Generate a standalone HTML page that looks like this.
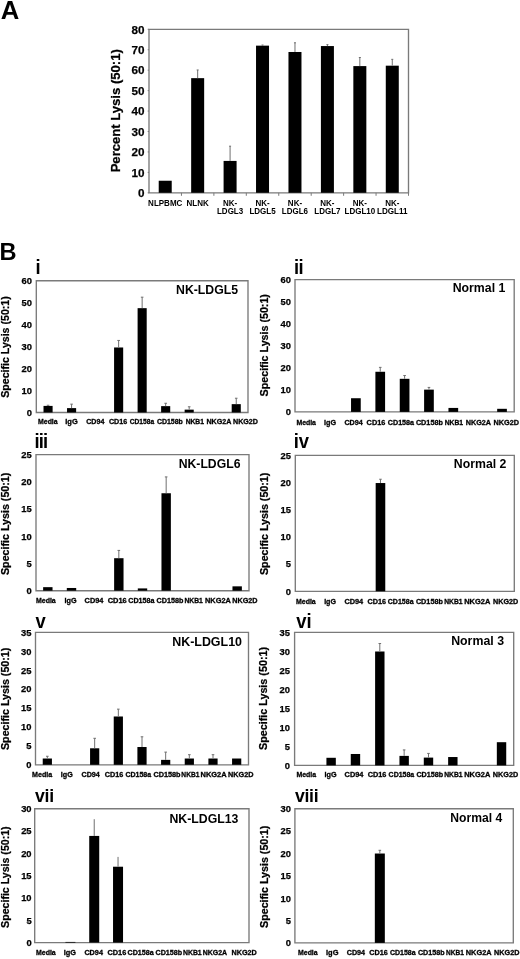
<!DOCTYPE html>
<html><head><meta charset="utf-8"><style>
html,body{margin:0;padding:0;background:#fff;width:520px;height:959px;overflow:hidden}
svg{display:block;filter:grayscale(1)}
</style></head><body>
<svg width="520" height="959" viewBox="0 0 520 959">
<g font-family='"Liberation Sans", sans-serif' font-weight="bold" fill="#000">
<text x="0.86" y="19.20" font-size="25.5" textLength="18.51" lengthAdjust="spacingAndGlyphs" >A</text>
<path d="M149.00,29.30H408.50V192.80H149.00Z" fill="none" stroke="#7a7a7a" stroke-width="1.35"/>
<rect x="158.72" y="180.74" width="13.00" height="12.06" fill="#000"/>
<rect x="191.16" y="78.15" width="13.00" height="114.65" fill="#000"/>
<rect x="223.59" y="160.92" width="13.00" height="31.88" fill="#000"/>
<rect x="256.03" y="45.65" width="13.00" height="147.15" fill="#000"/>
<rect x="288.47" y="51.99" width="13.00" height="140.81" fill="#000"/>
<rect x="320.91" y="46.06" width="13.00" height="146.74" fill="#000"/>
<rect x="353.34" y="66.09" width="13.00" height="126.71" fill="#000"/>
<rect x="385.78" y="65.68" width="13.00" height="127.12" fill="#000"/>
<line x1="197.66" y1="78.15" x2="197.66" y2="69.97" stroke="#707070" stroke-width="1"/>
<line x1="196.66" y1="69.97" x2="198.66" y2="69.97" stroke="#707070" stroke-width="1"/>
<line x1="230.09" y1="160.92" x2="230.09" y2="146.20" stroke="#707070" stroke-width="1"/>
<line x1="229.09" y1="146.20" x2="231.09" y2="146.20" stroke="#707070" stroke-width="1"/>
<line x1="262.53" y1="45.65" x2="262.53" y2="45.04" stroke="#707070" stroke-width="1"/>
<line x1="261.53" y1="45.04" x2="263.53" y2="45.04" stroke="#707070" stroke-width="1"/>
<line x1="294.97" y1="51.99" x2="294.97" y2="42.79" stroke="#707070" stroke-width="1"/>
<line x1="293.97" y1="42.79" x2="295.97" y2="42.79" stroke="#707070" stroke-width="1"/>
<line x1="327.41" y1="46.06" x2="327.41" y2="44.63" stroke="#707070" stroke-width="1"/>
<line x1="326.41" y1="44.63" x2="328.41" y2="44.63" stroke="#707070" stroke-width="1"/>
<line x1="359.84" y1="66.09" x2="359.84" y2="57.50" stroke="#707070" stroke-width="1"/>
<line x1="358.84" y1="57.50" x2="360.84" y2="57.50" stroke="#707070" stroke-width="1"/>
<line x1="392.28" y1="65.68" x2="392.28" y2="59.34" stroke="#707070" stroke-width="1"/>
<line x1="391.28" y1="59.34" x2="393.28" y2="59.34" stroke="#707070" stroke-width="1"/>
<text x="144.40" y="197.01" font-size="11.7" text-anchor="end" stroke="#000" stroke-width="0.25">0</text>
<line x1="147.70" y1="192.80" x2="149.00" y2="192.80" stroke="#7a7a7a" stroke-width="1"/>
<text x="144.40" y="176.57" font-size="11.7" text-anchor="end" stroke="#000" stroke-width="0.25">10</text>
<line x1="147.70" y1="172.36" x2="149.00" y2="172.36" stroke="#7a7a7a" stroke-width="1"/>
<text x="144.40" y="156.14" font-size="11.7" text-anchor="end" stroke="#000" stroke-width="0.25">20</text>
<line x1="147.70" y1="151.93" x2="149.00" y2="151.93" stroke="#7a7a7a" stroke-width="1"/>
<text x="144.40" y="135.70" font-size="11.7" text-anchor="end" stroke="#000" stroke-width="0.25">30</text>
<line x1="147.70" y1="131.49" x2="149.00" y2="131.49" stroke="#7a7a7a" stroke-width="1"/>
<text x="144.40" y="115.26" font-size="11.7" text-anchor="end" stroke="#000" stroke-width="0.25">40</text>
<line x1="147.70" y1="111.05" x2="149.00" y2="111.05" stroke="#7a7a7a" stroke-width="1"/>
<text x="144.40" y="94.82" font-size="11.7" text-anchor="end" stroke="#000" stroke-width="0.25">50</text>
<line x1="147.70" y1="90.61" x2="149.00" y2="90.61" stroke="#7a7a7a" stroke-width="1"/>
<text x="144.40" y="74.39" font-size="11.7" text-anchor="end" stroke="#000" stroke-width="0.25">60</text>
<line x1="147.70" y1="70.17" x2="149.00" y2="70.17" stroke="#7a7a7a" stroke-width="1"/>
<text x="144.40" y="53.95" font-size="11.7" text-anchor="end" stroke="#000" stroke-width="0.25">70</text>
<line x1="147.70" y1="49.74" x2="149.00" y2="49.74" stroke="#7a7a7a" stroke-width="1"/>
<text x="144.40" y="33.51" font-size="11.7" text-anchor="end" stroke="#000" stroke-width="0.25">80</text>
<line x1="147.70" y1="29.30" x2="149.00" y2="29.30" stroke="#7a7a7a" stroke-width="1"/>
<line x1="181.44" y1="192.80" x2="181.44" y2="195.80" stroke="#7a7a7a" stroke-width="1"/>
<line x1="213.88" y1="192.80" x2="213.88" y2="195.80" stroke="#7a7a7a" stroke-width="1"/>
<line x1="246.31" y1="192.80" x2="246.31" y2="195.80" stroke="#7a7a7a" stroke-width="1"/>
<line x1="278.75" y1="192.80" x2="278.75" y2="195.80" stroke="#7a7a7a" stroke-width="1"/>
<line x1="311.19" y1="192.80" x2="311.19" y2="195.80" stroke="#7a7a7a" stroke-width="1"/>
<line x1="343.62" y1="192.80" x2="343.62" y2="195.80" stroke="#7a7a7a" stroke-width="1"/>
<line x1="376.06" y1="192.80" x2="376.06" y2="195.80" stroke="#7a7a7a" stroke-width="1"/>
<line x1="408.50" y1="192.80" x2="408.50" y2="195.80" stroke="#7a7a7a" stroke-width="1"/>
<text x="0" y="0" font-size="12.8" textLength="123.22" lengthAdjust="spacingAndGlyphs" stroke="#000" stroke-width="0.25" transform="translate(119.60,172.37) rotate(-90)">Percent Lysis (50:1)</text>
<text x="148.11" y="205.50" font-size="8.7" textLength="34.22" lengthAdjust="spacingAndGlyphs" >NLPBMC</text>
<text x="186.55" y="205.50" font-size="8.7" textLength="22.22" lengthAdjust="spacingAndGlyphs" >NLNK</text>
<text x="222.98" y="205.50" font-size="8.7" textLength="14.22" lengthAdjust="spacingAndGlyphs" >NK-</text>
<text x="216.98" y="213.70" font-size="8.7" textLength="26.22" lengthAdjust="spacingAndGlyphs" >LDGL3</text>
<text x="255.42" y="205.50" font-size="8.7" textLength="14.22" lengthAdjust="spacingAndGlyphs" >NK-</text>
<text x="249.42" y="213.70" font-size="8.7" textLength="26.22" lengthAdjust="spacingAndGlyphs" >LDGL5</text>
<text x="287.86" y="205.50" font-size="8.7" textLength="14.22" lengthAdjust="spacingAndGlyphs" >NK-</text>
<text x="281.86" y="213.70" font-size="8.7" textLength="26.22" lengthAdjust="spacingAndGlyphs" >LDGL6</text>
<text x="320.30" y="205.50" font-size="8.7" textLength="14.22" lengthAdjust="spacingAndGlyphs" >NK-</text>
<text x="314.29" y="213.70" font-size="8.7" textLength="26.22" lengthAdjust="spacingAndGlyphs" >LDGL7</text>
<text x="352.73" y="205.50" font-size="8.7" textLength="14.22" lengthAdjust="spacingAndGlyphs" >NK-</text>
<text x="344.51" y="213.70" font-size="8.7" textLength="30.67" lengthAdjust="spacingAndGlyphs" >LDGL10</text>
<text x="385.17" y="205.50" font-size="8.7" textLength="14.22" lengthAdjust="spacingAndGlyphs" >NK-</text>
<text x="376.95" y="213.70" font-size="8.7" textLength="30.67" lengthAdjust="spacingAndGlyphs" >LDGL11</text>
<text x="-0.58" y="259.60" font-size="23.5" textLength="17.05" lengthAdjust="spacingAndGlyphs" >B</text>
<text x="0" y="0" font-size="20.0" letter-spacing="0.00" transform="translate(35.62,274.00) scale(0.92,1)">i</text>
<path d="M36.30,280.70H248.00V412.50H36.30Z" fill="none" stroke="#7a7a7a" stroke-width="1.35"/>
<rect x="43.51" y="405.91" width="9.10" height="6.59" fill="#000"/>
<rect x="67.03" y="408.11" width="9.10" height="4.39" fill="#000"/>
<rect x="114.08" y="347.48" width="9.10" height="65.02" fill="#000"/>
<rect x="137.60" y="308.16" width="9.10" height="104.34" fill="#000"/>
<rect x="161.12" y="406.13" width="9.10" height="6.37" fill="#000"/>
<rect x="184.64" y="409.64" width="9.10" height="2.86" fill="#000"/>
<rect x="231.69" y="404.15" width="9.10" height="8.35" fill="#000"/>
<line x1="48.06" y1="405.91" x2="48.06" y2="405.25" stroke="#707070" stroke-width="1"/>
<line x1="46.76" y1="405.25" x2="49.36" y2="405.25" stroke="#707070" stroke-width="1"/>
<line x1="71.58" y1="408.11" x2="71.58" y2="404.15" stroke="#707070" stroke-width="1"/>
<line x1="70.28" y1="404.15" x2="72.88" y2="404.15" stroke="#707070" stroke-width="1"/>
<line x1="118.63" y1="347.48" x2="118.63" y2="340.45" stroke="#707070" stroke-width="1"/>
<line x1="117.33" y1="340.45" x2="119.93" y2="340.45" stroke="#707070" stroke-width="1"/>
<line x1="142.15" y1="308.16" x2="142.15" y2="297.18" stroke="#707070" stroke-width="1"/>
<line x1="140.85" y1="297.18" x2="143.45" y2="297.18" stroke="#707070" stroke-width="1"/>
<line x1="165.67" y1="406.13" x2="165.67" y2="403.27" stroke="#707070" stroke-width="1"/>
<line x1="164.37" y1="403.27" x2="166.97" y2="403.27" stroke="#707070" stroke-width="1"/>
<line x1="189.19" y1="409.64" x2="189.19" y2="406.79" stroke="#707070" stroke-width="1"/>
<line x1="187.89" y1="406.79" x2="190.49" y2="406.79" stroke="#707070" stroke-width="1"/>
<line x1="236.24" y1="404.15" x2="236.24" y2="398.22" stroke="#707070" stroke-width="1"/>
<line x1="234.94" y1="398.22" x2="237.54" y2="398.22" stroke="#707070" stroke-width="1"/>
<text x="31.90" y="415.88" font-size="9.4" text-anchor="end" stroke="#000" stroke-width="0.25">0</text>
<text x="31.90" y="393.92" font-size="9.4" text-anchor="end" stroke="#000" stroke-width="0.25">10</text>
<text x="31.90" y="371.95" font-size="9.4" text-anchor="end" stroke="#000" stroke-width="0.25">20</text>
<text x="31.90" y="349.98" font-size="9.4" text-anchor="end" stroke="#000" stroke-width="0.25">30</text>
<text x="31.90" y="328.02" font-size="9.4" text-anchor="end" stroke="#000" stroke-width="0.25">40</text>
<text x="31.90" y="306.05" font-size="9.4" text-anchor="end" stroke="#000" stroke-width="0.25">50</text>
<text x="31.90" y="284.08" font-size="9.4" text-anchor="end" stroke="#000" stroke-width="0.25">60</text>
<text x="176.08" y="293.80" font-size="12" textLength="61.96" lengthAdjust="spacingAndGlyphs" >NK-LDGL5</text>
<text x="0" y="0" font-size="10.3" textLength="101.53" lengthAdjust="spacingAndGlyphs" stroke="#000" stroke-width="0.25" transform="translate(9.00,397.80) rotate(-90)">Specific Lysis (50:1)</text>
<text x="38.04" y="423.70" font-size="7.2" textLength="19.62" lengthAdjust="spacingAndGlyphs" stroke="#000" stroke-width="0.3">Media</text>
<text x="65.30" y="423.70" font-size="7.2" textLength="12.46" lengthAdjust="spacingAndGlyphs" stroke="#000" stroke-width="0.3">IgG</text>
<text x="86.21" y="423.70" font-size="7.2" textLength="18.13" lengthAdjust="spacingAndGlyphs" stroke="#000" stroke-width="0.3">CD94</text>
<text x="108.91" y="423.70" font-size="7.2" textLength="18.35" lengthAdjust="spacingAndGlyphs" stroke="#000" stroke-width="0.3">CD16</text>
<text x="129.73" y="423.70" font-size="7.2" textLength="24.43" lengthAdjust="spacingAndGlyphs" stroke="#000" stroke-width="0.3">CD158a</text>
<text x="156.91" y="423.70" font-size="7.2" textLength="25.97" lengthAdjust="spacingAndGlyphs" stroke="#000" stroke-width="0.3">CD158b</text>
<text x="185.65" y="423.70" font-size="7.2" textLength="18.34" lengthAdjust="spacingAndGlyphs" stroke="#000" stroke-width="0.3">NKB1</text>
<text x="206.42" y="423.70" font-size="7.2" textLength="24.97" lengthAdjust="spacingAndGlyphs" stroke="#000" stroke-width="0.3">NKG2A</text>
<text x="233.02" y="423.70" font-size="7.2" textLength="24.98" lengthAdjust="spacingAndGlyphs" stroke="#000" stroke-width="0.3">NKG2D</text>
<text x="0" y="0" font-size="20.0" letter-spacing="-0.69" transform="translate(293.92,273.90) scale(0.92,1)">ii</text>
<path d="M295.00,279.60H514.20V411.90H295.00Z" fill="none" stroke="#7a7a7a" stroke-width="1.35"/>
<rect x="351.04" y="398.23" width="9.70" height="13.67" fill="#000"/>
<rect x="375.39" y="371.77" width="9.70" height="40.13" fill="#000"/>
<rect x="399.75" y="378.82" width="9.70" height="33.07" fill="#000"/>
<rect x="424.11" y="389.63" width="9.70" height="22.27" fill="#000"/>
<rect x="448.46" y="407.93" width="9.70" height="3.97" fill="#000"/>
<rect x="497.17" y="408.81" width="9.70" height="3.09" fill="#000"/>
<line x1="380.24" y1="371.77" x2="380.24" y2="367.36" stroke="#707070" stroke-width="1"/>
<line x1="378.94" y1="367.36" x2="381.54" y2="367.36" stroke="#707070" stroke-width="1"/>
<line x1="404.60" y1="378.82" x2="404.60" y2="375.52" stroke="#707070" stroke-width="1"/>
<line x1="403.30" y1="375.52" x2="405.90" y2="375.52" stroke="#707070" stroke-width="1"/>
<line x1="428.96" y1="389.63" x2="428.96" y2="387.42" stroke="#707070" stroke-width="1"/>
<line x1="427.66" y1="387.42" x2="430.26" y2="387.42" stroke="#707070" stroke-width="1"/>
<text x="290.90" y="415.28" font-size="9.4" text-anchor="end" stroke="#000" stroke-width="0.25">0</text>
<text x="290.90" y="393.23" font-size="9.4" text-anchor="end" stroke="#000" stroke-width="0.25">10</text>
<text x="290.90" y="371.18" font-size="9.4" text-anchor="end" stroke="#000" stroke-width="0.25">20</text>
<text x="290.90" y="349.13" font-size="9.4" text-anchor="end" stroke="#000" stroke-width="0.25">30</text>
<text x="290.90" y="327.08" font-size="9.4" text-anchor="end" stroke="#000" stroke-width="0.25">40</text>
<text x="290.90" y="305.03" font-size="9.4" text-anchor="end" stroke="#000" stroke-width="0.25">50</text>
<text x="290.90" y="282.98" font-size="9.4" text-anchor="end" stroke="#000" stroke-width="0.25">60</text>
<text x="452.68" y="291.80" font-size="12" textLength="52.67" lengthAdjust="spacingAndGlyphs" >Normal 1</text>
<text x="0" y="0" font-size="10.3" textLength="102.34" lengthAdjust="spacingAndGlyphs" stroke="#000" stroke-width="0.25" transform="translate(268.00,396.41) rotate(-90)">Specific Lysis (50:1)</text>
<text x="296.44" y="424.60" font-size="7.2" textLength="19.52" lengthAdjust="spacingAndGlyphs" stroke="#000" stroke-width="0.3">Media</text>
<text x="324.12" y="424.60" font-size="7.2" textLength="12.03" lengthAdjust="spacingAndGlyphs" stroke="#000" stroke-width="0.3">IgG</text>
<text x="344.41" y="424.60" font-size="7.2" textLength="18.33" lengthAdjust="spacingAndGlyphs" stroke="#000" stroke-width="0.3">CD94</text>
<text x="366.60" y="424.60" font-size="7.2" textLength="18.77" lengthAdjust="spacingAndGlyphs" stroke="#000" stroke-width="0.3">CD16</text>
<text x="387.81" y="424.60" font-size="7.2" textLength="26.25" lengthAdjust="spacingAndGlyphs" stroke="#000" stroke-width="0.3">CD158a</text>
<text x="415.90" y="424.60" font-size="7.2" textLength="26.99" lengthAdjust="spacingAndGlyphs" stroke="#000" stroke-width="0.3">CD158b</text>
<text x="444.75" y="424.60" font-size="7.2" textLength="18.34" lengthAdjust="spacingAndGlyphs" stroke="#000" stroke-width="0.3">NKB1</text>
<text x="465.82" y="424.60" font-size="7.2" textLength="25.27" lengthAdjust="spacingAndGlyphs" stroke="#000" stroke-width="0.3">NKG2A</text>
<text x="493.51" y="424.60" font-size="7.2" textLength="25.49" lengthAdjust="spacingAndGlyphs" stroke="#000" stroke-width="0.3">NKG2D</text>
<text x="0" y="0" font-size="20.0" letter-spacing="-0.90" transform="translate(34.52,448.10) scale(0.92,1)">iii</text>
<path d="M36.00,454.60H249.00V590.70H36.00Z" fill="none" stroke="#7a7a7a" stroke-width="1.35"/>
<rect x="43.13" y="587.16" width="9.40" height="3.54" fill="#000"/>
<rect x="66.80" y="587.98" width="9.40" height="2.72" fill="#000"/>
<rect x="114.13" y="558.20" width="9.40" height="32.50" fill="#000"/>
<rect x="137.80" y="588.41" width="9.40" height="2.29" fill="#000"/>
<rect x="161.47" y="493.25" width="9.40" height="97.45" fill="#000"/>
<rect x="232.47" y="586.34" width="9.40" height="4.36" fill="#000"/>
<line x1="118.83" y1="558.20" x2="118.83" y2="550.41" stroke="#707070" stroke-width="1"/>
<line x1="117.53" y1="550.41" x2="120.13" y2="550.41" stroke="#707070" stroke-width="1"/>
<line x1="166.17" y1="493.25" x2="166.17" y2="476.92" stroke="#707070" stroke-width="1"/>
<line x1="164.87" y1="476.92" x2="167.47" y2="476.92" stroke="#707070" stroke-width="1"/>
<text x="31.80" y="594.08" font-size="9.4" text-anchor="end" stroke="#000" stroke-width="0.25">0</text>
<text x="31.80" y="566.86" font-size="9.4" text-anchor="end" stroke="#000" stroke-width="0.25">5</text>
<text x="31.80" y="539.64" font-size="9.4" text-anchor="end" stroke="#000" stroke-width="0.25">10</text>
<text x="31.80" y="512.42" font-size="9.4" text-anchor="end" stroke="#000" stroke-width="0.25">15</text>
<text x="31.80" y="485.20" font-size="9.4" text-anchor="end" stroke="#000" stroke-width="0.25">20</text>
<text x="31.80" y="457.98" font-size="9.4" text-anchor="end" stroke="#000" stroke-width="0.25">25</text>
<text x="178.68" y="467.90" font-size="12" textLength="61.76" lengthAdjust="spacingAndGlyphs" >NK-LDGL6</text>
<text x="0" y="0" font-size="10.3" textLength="102.34" lengthAdjust="spacingAndGlyphs" stroke="#000" stroke-width="0.25" transform="translate(9.00,575.01) rotate(-90)">Specific Lysis (50:1)</text>
<text x="36.03" y="602.50" font-size="7.2" textLength="19.72" lengthAdjust="spacingAndGlyphs" stroke="#000" stroke-width="0.3">Media</text>
<text x="64.62" y="602.50" font-size="7.2" textLength="12.03" lengthAdjust="spacingAndGlyphs" stroke="#000" stroke-width="0.3">IgG</text>
<text x="84.60" y="602.50" font-size="7.2" textLength="18.84" lengthAdjust="spacingAndGlyphs" stroke="#000" stroke-width="0.3">CD94</text>
<text x="107.69" y="602.50" font-size="7.2" textLength="19.08" lengthAdjust="spacingAndGlyphs" stroke="#000" stroke-width="0.3">CD16</text>
<text x="128.31" y="602.50" font-size="7.2" textLength="26.15" lengthAdjust="spacingAndGlyphs" stroke="#000" stroke-width="0.3">CD158a</text>
<text x="156.60" y="602.50" font-size="7.2" textLength="26.79" lengthAdjust="spacingAndGlyphs" stroke="#000" stroke-width="0.3">CD158b</text>
<text x="184.45" y="602.50" font-size="7.2" textLength="18.34" lengthAdjust="spacingAndGlyphs" stroke="#000" stroke-width="0.3">NKB1</text>
<text x="205.01" y="602.50" font-size="7.2" textLength="25.89" lengthAdjust="spacingAndGlyphs" stroke="#000" stroke-width="0.3">NKG2A</text>
<text x="232.22" y="602.50" font-size="7.2" textLength="25.29" lengthAdjust="spacingAndGlyphs" stroke="#000" stroke-width="0.3">NKG2D</text>
<text x="0" y="0" font-size="20.0" letter-spacing="-0.30" transform="translate(293.82,448.20) scale(0.92,1)">iv</text>
<path d="M295.30,455.30H514.30V591.30H295.30Z" fill="none" stroke="#7a7a7a" stroke-width="1.35"/>
<rect x="375.67" y="483.04" width="9.60" height="108.26" fill="#000"/>
<line x1="380.47" y1="483.04" x2="380.47" y2="479.24" stroke="#707070" stroke-width="1"/>
<line x1="379.17" y1="479.24" x2="381.77" y2="479.24" stroke="#707070" stroke-width="1"/>
<text x="291.00" y="594.68" font-size="9.4" text-anchor="end" stroke="#000" stroke-width="0.25">0</text>
<text x="291.00" y="567.48" font-size="9.4" text-anchor="end" stroke="#000" stroke-width="0.25">5</text>
<text x="291.00" y="540.28" font-size="9.4" text-anchor="end" stroke="#000" stroke-width="0.25">10</text>
<text x="291.00" y="513.08" font-size="9.4" text-anchor="end" stroke="#000" stroke-width="0.25">15</text>
<text x="291.00" y="485.88" font-size="9.4" text-anchor="end" stroke="#000" stroke-width="0.25">20</text>
<text x="291.00" y="458.68" font-size="9.4" text-anchor="end" stroke="#000" stroke-width="0.25">25</text>
<text x="453.88" y="468.30" font-size="12" textLength="52.51" lengthAdjust="spacingAndGlyphs" >Normal 2</text>
<text x="0" y="0" font-size="10.3" textLength="102.34" lengthAdjust="spacingAndGlyphs" stroke="#000" stroke-width="0.25" transform="translate(268.00,575.01) rotate(-90)">Specific Lysis (50:1)</text>
<text x="296.03" y="603.60" font-size="7.2" textLength="19.72" lengthAdjust="spacingAndGlyphs" stroke="#000" stroke-width="0.3">Media</text>
<text x="324.13" y="603.60" font-size="7.2" textLength="11.81" lengthAdjust="spacingAndGlyphs" stroke="#000" stroke-width="0.3">IgG</text>
<text x="344.40" y="603.60" font-size="7.2" textLength="18.84" lengthAdjust="spacingAndGlyphs" stroke="#000" stroke-width="0.3">CD94</text>
<text x="367.50" y="603.60" font-size="7.2" textLength="18.56" lengthAdjust="spacingAndGlyphs" stroke="#000" stroke-width="0.3">CD16</text>
<text x="387.81" y="603.60" font-size="7.2" textLength="25.74" lengthAdjust="spacingAndGlyphs" stroke="#000" stroke-width="0.3">CD158a</text>
<text x="415.90" y="603.60" font-size="7.2" textLength="26.99" lengthAdjust="spacingAndGlyphs" stroke="#000" stroke-width="0.3">CD158b</text>
<text x="444.25" y="603.60" font-size="7.2" textLength="18.34" lengthAdjust="spacingAndGlyphs" stroke="#000" stroke-width="0.3">NKB1</text>
<text x="464.20" y="603.60" font-size="7.2" textLength="26.10" lengthAdjust="spacingAndGlyphs" stroke="#000" stroke-width="0.3">NKG2A</text>
<text x="493.02" y="603.60" font-size="7.2" textLength="25.18" lengthAdjust="spacingAndGlyphs" stroke="#000" stroke-width="0.3">NKG2D</text>
<text x="0" y="0" font-size="20.0" letter-spacing="0.00" transform="translate(35.43,627.50) scale(0.92,1)">v</text>
<path d="M35.50,632.30H248.50V764.80H35.50Z" fill="none" stroke="#7a7a7a" stroke-width="1.35"/>
<rect x="42.73" y="758.52" width="9.20" height="6.28" fill="#000"/>
<rect x="90.07" y="748.29" width="9.20" height="16.51" fill="#000"/>
<rect x="113.73" y="716.49" width="9.20" height="48.31" fill="#000"/>
<rect x="137.40" y="747.01" width="9.20" height="17.79" fill="#000"/>
<rect x="161.07" y="759.88" width="9.20" height="4.92" fill="#000"/>
<rect x="184.73" y="758.52" width="9.20" height="6.28" fill="#000"/>
<rect x="208.40" y="758.52" width="9.20" height="6.28" fill="#000"/>
<rect x="232.07" y="758.52" width="9.20" height="6.28" fill="#000"/>
<line x1="47.33" y1="758.52" x2="47.33" y2="756.28" stroke="#707070" stroke-width="1"/>
<line x1="46.03" y1="756.28" x2="48.63" y2="756.28" stroke="#707070" stroke-width="1"/>
<line x1="94.67" y1="748.29" x2="94.67" y2="738.30" stroke="#707070" stroke-width="1"/>
<line x1="93.37" y1="738.30" x2="95.97" y2="738.30" stroke="#707070" stroke-width="1"/>
<line x1="118.33" y1="716.49" x2="118.33" y2="709.15" stroke="#707070" stroke-width="1"/>
<line x1="117.03" y1="709.15" x2="119.63" y2="709.15" stroke="#707070" stroke-width="1"/>
<line x1="142.00" y1="747.01" x2="142.00" y2="736.79" stroke="#707070" stroke-width="1"/>
<line x1="140.70" y1="736.79" x2="143.30" y2="736.79" stroke="#707070" stroke-width="1"/>
<line x1="165.67" y1="759.88" x2="165.67" y2="752.12" stroke="#707070" stroke-width="1"/>
<line x1="164.37" y1="752.12" x2="166.97" y2="752.12" stroke="#707070" stroke-width="1"/>
<line x1="189.33" y1="758.52" x2="189.33" y2="754.69" stroke="#707070" stroke-width="1"/>
<line x1="188.03" y1="754.69" x2="190.63" y2="754.69" stroke="#707070" stroke-width="1"/>
<line x1="213.00" y1="758.52" x2="213.00" y2="754.69" stroke="#707070" stroke-width="1"/>
<line x1="211.70" y1="754.69" x2="214.30" y2="754.69" stroke="#707070" stroke-width="1"/>
<text x="31.50" y="768.18" font-size="9.4" text-anchor="end" stroke="#000" stroke-width="0.25">0</text>
<text x="31.50" y="749.26" font-size="9.4" text-anchor="end" stroke="#000" stroke-width="0.25">5</text>
<text x="31.50" y="730.33" font-size="9.4" text-anchor="end" stroke="#000" stroke-width="0.25">10</text>
<text x="31.50" y="711.40" font-size="9.4" text-anchor="end" stroke="#000" stroke-width="0.25">15</text>
<text x="31.50" y="692.47" font-size="9.4" text-anchor="end" stroke="#000" stroke-width="0.25">20</text>
<text x="31.50" y="673.54" font-size="9.4" text-anchor="end" stroke="#000" stroke-width="0.25">25</text>
<text x="31.50" y="654.61" font-size="9.4" text-anchor="end" stroke="#000" stroke-width="0.25">30</text>
<text x="31.50" y="635.68" font-size="9.4" text-anchor="end" stroke="#000" stroke-width="0.25">35</text>
<text x="172.17" y="645.70" font-size="12" textLength="69.84" lengthAdjust="spacingAndGlyphs" >NK-LDGL10</text>
<text x="0" y="0" font-size="10.3" textLength="102.34" lengthAdjust="spacingAndGlyphs" stroke="#000" stroke-width="0.25" transform="translate(9.00,750.01) rotate(-90)">Specific Lysis (50:1)</text>
<text x="32.02" y="777.00" font-size="7.2" textLength="20.13" lengthAdjust="spacingAndGlyphs" stroke="#000" stroke-width="0.3">Media</text>
<text x="60.82" y="777.00" font-size="7.2" textLength="11.92" lengthAdjust="spacingAndGlyphs" stroke="#000" stroke-width="0.3">IgG</text>
<text x="81.51" y="777.00" font-size="7.2" textLength="18.33" lengthAdjust="spacingAndGlyphs" stroke="#000" stroke-width="0.3">CD94</text>
<text x="104.80" y="777.00" font-size="7.2" textLength="18.56" lengthAdjust="spacingAndGlyphs" stroke="#000" stroke-width="0.3">CD16</text>
<text x="125.41" y="777.00" font-size="7.2" textLength="25.74" lengthAdjust="spacingAndGlyphs" stroke="#000" stroke-width="0.3">CD158a</text>
<text x="153.40" y="777.00" font-size="7.2" textLength="27.10" lengthAdjust="spacingAndGlyphs" stroke="#000" stroke-width="0.3">CD158b</text>
<text x="181.36" y="777.00" font-size="7.2" textLength="18.03" lengthAdjust="spacingAndGlyphs" stroke="#000" stroke-width="0.3">NKB1</text>
<text x="200.50" y="777.00" font-size="7.2" textLength="26.10" lengthAdjust="spacingAndGlyphs" stroke="#000" stroke-width="0.3">NKG2A</text>
<text x="228.01" y="777.00" font-size="7.2" textLength="25.49" lengthAdjust="spacingAndGlyphs" stroke="#000" stroke-width="0.3">NKG2D</text>
<text x="0" y="0" font-size="20.0" letter-spacing="0.03" transform="translate(296.23,628.00) scale(0.92,1)">vi</text>
<path d="M294.60,632.30H513.70V765.40H294.60Z" fill="none" stroke="#7a7a7a" stroke-width="1.35"/>
<rect x="326.42" y="757.79" width="9.40" height="7.61" fill="#000"/>
<rect x="350.76" y="753.99" width="9.40" height="11.41" fill="#000"/>
<rect x="375.11" y="651.50" width="9.40" height="113.90" fill="#000"/>
<rect x="399.45" y="755.89" width="9.40" height="9.51" fill="#000"/>
<rect x="423.79" y="757.60" width="9.40" height="7.80" fill="#000"/>
<rect x="448.14" y="757.03" width="9.40" height="8.37" fill="#000"/>
<rect x="496.83" y="742.20" width="9.40" height="23.20" fill="#000"/>
<line x1="379.81" y1="651.50" x2="379.81" y2="643.52" stroke="#707070" stroke-width="1"/>
<line x1="378.51" y1="643.52" x2="381.11" y2="643.52" stroke="#707070" stroke-width="1"/>
<line x1="404.15" y1="755.89" x2="404.15" y2="749.92" stroke="#707070" stroke-width="1"/>
<line x1="402.85" y1="749.92" x2="405.45" y2="749.92" stroke="#707070" stroke-width="1"/>
<line x1="428.49" y1="757.60" x2="428.49" y2="753.42" stroke="#707070" stroke-width="1"/>
<line x1="427.19" y1="753.42" x2="429.79" y2="753.42" stroke="#707070" stroke-width="1"/>
<text x="290.00" y="768.78" font-size="9.4" text-anchor="end" stroke="#000" stroke-width="0.25">0</text>
<text x="290.00" y="749.77" font-size="9.4" text-anchor="end" stroke="#000" stroke-width="0.25">5</text>
<text x="290.00" y="730.76" font-size="9.4" text-anchor="end" stroke="#000" stroke-width="0.25">10</text>
<text x="290.00" y="711.74" font-size="9.4" text-anchor="end" stroke="#000" stroke-width="0.25">15</text>
<text x="290.00" y="692.73" font-size="9.4" text-anchor="end" stroke="#000" stroke-width="0.25">20</text>
<text x="290.00" y="673.71" font-size="9.4" text-anchor="end" stroke="#000" stroke-width="0.25">25</text>
<text x="290.00" y="654.70" font-size="9.4" text-anchor="end" stroke="#000" stroke-width="0.25">30</text>
<text x="290.00" y="635.68" font-size="9.4" text-anchor="end" stroke="#000" stroke-width="0.25">35</text>
<text x="451.17" y="645.30" font-size="12" textLength="52.87" lengthAdjust="spacingAndGlyphs" >Normal 3</text>
<text x="0" y="0" font-size="10.3" textLength="103.04" lengthAdjust="spacingAndGlyphs" stroke="#000" stroke-width="0.25" transform="translate(267.30,750.01) rotate(-90)">Specific Lysis (50:1)</text>
<text x="296.44" y="777.30" font-size="7.2" textLength="19.62" lengthAdjust="spacingAndGlyphs" stroke="#000" stroke-width="0.3">Media</text>
<text x="324.62" y="777.30" font-size="7.2" textLength="12.03" lengthAdjust="spacingAndGlyphs" stroke="#000" stroke-width="0.3">IgG</text>
<text x="344.60" y="777.30" font-size="7.2" textLength="18.84" lengthAdjust="spacingAndGlyphs" stroke="#000" stroke-width="0.3">CD94</text>
<text x="367.70" y="777.30" font-size="7.2" textLength="18.77" lengthAdjust="spacingAndGlyphs" stroke="#000" stroke-width="0.3">CD16</text>
<text x="388.61" y="777.30" font-size="7.2" textLength="25.64" lengthAdjust="spacingAndGlyphs" stroke="#000" stroke-width="0.3">CD158a</text>
<text x="416.40" y="777.30" font-size="7.2" textLength="26.79" lengthAdjust="spacingAndGlyphs" stroke="#000" stroke-width="0.3">CD158b</text>
<text x="444.25" y="777.30" font-size="7.2" textLength="18.34" lengthAdjust="spacingAndGlyphs" stroke="#000" stroke-width="0.3">NKB1</text>
<text x="464.20" y="777.30" font-size="7.2" textLength="26.10" lengthAdjust="spacingAndGlyphs" stroke="#000" stroke-width="0.3">NKG2A</text>
<text x="492.81" y="777.30" font-size="7.2" textLength="25.39" lengthAdjust="spacingAndGlyphs" stroke="#000" stroke-width="0.3">NKG2D</text>
<text x="0" y="0" font-size="19.2" letter-spacing="-0.23" transform="translate(34.93,801.80) scale(0.92,1)">vii</text>
<path d="M34.70,808.70H249.00V942.60H34.70Z" fill="none" stroke="#7a7a7a" stroke-width="1.35"/>
<rect x="65.42" y="941.93" width="10.00" height="0.67" fill="#000"/>
<rect x="89.23" y="835.93" width="10.00" height="106.67" fill="#000"/>
<rect x="113.04" y="866.72" width="10.00" height="75.88" fill="#000"/>
<line x1="94.23" y1="835.93" x2="94.23" y2="819.19" stroke="#707070" stroke-width="1"/>
<line x1="118.04" y1="866.72" x2="118.04" y2="856.90" stroke="#707070" stroke-width="1"/>
<text x="31.60" y="945.98" font-size="9.4" text-anchor="end" stroke="#000" stroke-width="0.25">0</text>
<text x="31.60" y="923.67" font-size="9.4" text-anchor="end" stroke="#000" stroke-width="0.25">5</text>
<text x="31.60" y="901.35" font-size="9.4" text-anchor="end" stroke="#000" stroke-width="0.25">10</text>
<text x="31.60" y="879.03" font-size="9.4" text-anchor="end" stroke="#000" stroke-width="0.25">15</text>
<text x="31.60" y="856.72" font-size="9.4" text-anchor="end" stroke="#000" stroke-width="0.25">20</text>
<text x="31.60" y="834.40" font-size="9.4" text-anchor="end" stroke="#000" stroke-width="0.25">25</text>
<text x="31.60" y="812.08" font-size="9.4" text-anchor="end" stroke="#000" stroke-width="0.25">30</text>
<text x="169.48" y="823.00" font-size="12" textLength="68.97" lengthAdjust="spacingAndGlyphs" >NK-LDGL13</text>
<text x="0" y="0" font-size="10.3" textLength="101.53" lengthAdjust="spacingAndGlyphs" stroke="#000" stroke-width="0.25" transform="translate(9.00,927.90) rotate(-90)">Specific Lysis (50:1)</text>
<text x="36.03" y="955.00" font-size="7.2" textLength="19.72" lengthAdjust="spacingAndGlyphs" stroke="#000" stroke-width="0.3">Media</text>
<text x="63.71" y="955.00" font-size="7.2" textLength="12.25" lengthAdjust="spacingAndGlyphs" stroke="#000" stroke-width="0.3">IgG</text>
<text x="84.40" y="955.00" font-size="7.2" textLength="18.54" lengthAdjust="spacingAndGlyphs" stroke="#000" stroke-width="0.3">CD94</text>
<text x="107.50" y="955.00" font-size="7.2" textLength="18.77" lengthAdjust="spacingAndGlyphs" stroke="#000" stroke-width="0.3">CD16</text>
<text x="127.51" y="955.00" font-size="7.2" textLength="26.15" lengthAdjust="spacingAndGlyphs" stroke="#000" stroke-width="0.3">CD158a</text>
<text x="155.51" y="955.00" font-size="7.2" textLength="26.59" lengthAdjust="spacingAndGlyphs" stroke="#000" stroke-width="0.3">CD158b</text>
<text x="182.94" y="955.00" font-size="7.2" textLength="18.75" lengthAdjust="spacingAndGlyphs" stroke="#000" stroke-width="0.3">NKB1</text>
<text x="202.63" y="955.00" font-size="7.2" textLength="24.45" lengthAdjust="spacingAndGlyphs" stroke="#000" stroke-width="0.3">NKG2A</text>
<text x="231.52" y="955.00" font-size="7.2" textLength="25.29" lengthAdjust="spacingAndGlyphs" stroke="#000" stroke-width="0.3">NKG2D</text>
<text x="0" y="0" font-size="19.2" letter-spacing="-0.37" transform="translate(295.03,802.00) scale(0.92,1)">viii</text>
<path d="M294.90,808.70H513.30V942.90H294.90Z" fill="none" stroke="#7a7a7a" stroke-width="1.35"/>
<rect x="374.83" y="853.52" width="10.00" height="89.38" fill="#000"/>
<line x1="379.83" y1="853.52" x2="379.83" y2="850.30" stroke="#707070" stroke-width="1"/>
<line x1="378.53" y1="850.30" x2="381.13" y2="850.30" stroke="#707070" stroke-width="1"/>
<text x="291.00" y="946.28" font-size="9.4" text-anchor="end" stroke="#000" stroke-width="0.25">0</text>
<text x="291.00" y="923.92" font-size="9.4" text-anchor="end" stroke="#000" stroke-width="0.25">5</text>
<text x="291.00" y="901.55" font-size="9.4" text-anchor="end" stroke="#000" stroke-width="0.25">10</text>
<text x="291.00" y="879.18" font-size="9.4" text-anchor="end" stroke="#000" stroke-width="0.25">15</text>
<text x="291.00" y="856.82" font-size="9.4" text-anchor="end" stroke="#000" stroke-width="0.25">20</text>
<text x="291.00" y="834.45" font-size="9.4" text-anchor="end" stroke="#000" stroke-width="0.25">25</text>
<text x="291.00" y="812.08" font-size="9.4" text-anchor="end" stroke="#000" stroke-width="0.25">30</text>
<text x="450.29" y="822.00" font-size="12" textLength="51.98" lengthAdjust="spacingAndGlyphs" >Normal 4</text>
<text x="0" y="0" font-size="10.3" textLength="102.24" lengthAdjust="spacingAndGlyphs" stroke="#000" stroke-width="0.25" transform="translate(268.00,927.91) rotate(-90)">Specific Lysis (50:1)</text>
<text x="298.04" y="954.70" font-size="7.2" textLength="19.62" lengthAdjust="spacingAndGlyphs" stroke="#000" stroke-width="0.3">Media</text>
<text x="326.00" y="954.70" font-size="7.2" textLength="12.46" lengthAdjust="spacingAndGlyphs" stroke="#000" stroke-width="0.3">IgG</text>
<text x="346.71" y="954.70" font-size="7.2" textLength="18.33" lengthAdjust="spacingAndGlyphs" stroke="#000" stroke-width="0.3">CD94</text>
<text x="369.30" y="954.70" font-size="7.2" textLength="18.56" lengthAdjust="spacingAndGlyphs" stroke="#000" stroke-width="0.3">CD16</text>
<text x="389.91" y="954.70" font-size="7.2" textLength="25.64" lengthAdjust="spacingAndGlyphs" stroke="#000" stroke-width="0.3">CD158a</text>
<text x="417.91" y="954.70" font-size="7.2" textLength="26.59" lengthAdjust="spacingAndGlyphs" stroke="#000" stroke-width="0.3">CD158b</text>
<text x="446.06" y="954.70" font-size="7.2" textLength="17.82" lengthAdjust="spacingAndGlyphs" stroke="#000" stroke-width="0.3">NKB1</text>
<text x="465.81" y="954.70" font-size="7.2" textLength="25.79" lengthAdjust="spacingAndGlyphs" stroke="#000" stroke-width="0.3">NKG2A</text>
<text x="494.11" y="954.70" font-size="7.2" textLength="25.39" lengthAdjust="spacingAndGlyphs" stroke="#000" stroke-width="0.3">NKG2D</text>
</g></svg>
</body></html>
